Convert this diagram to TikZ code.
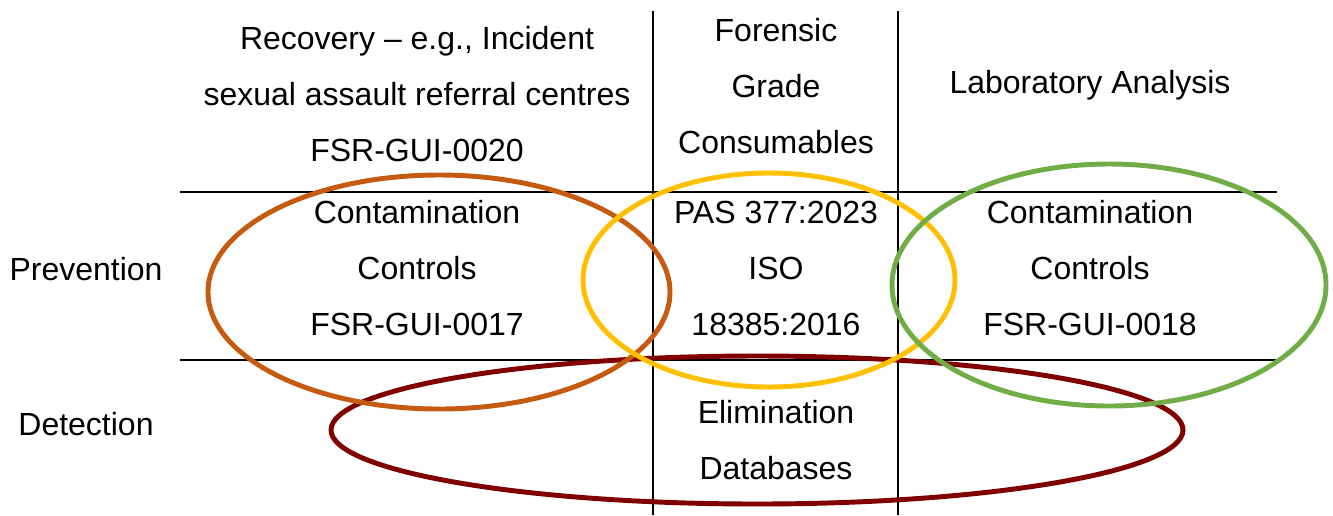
\documentclass[tikz,border=0pt]{standalone}
\usepackage{fontspec}
\setmainfont{Liberation Sans}
\usetikzlibrary{positioning}
\definecolor{ringorange}{HTML}{C55A11}
\definecolor{ringyellow}{HTML}{FFC000}
\definecolor{ringgreen}{HTML}{70AD47}
\definecolor{ringred}{HTML}{800000}
\tikzset{
  cell/.style={align=center,inner sep=0pt,font=\fontsize{24}{42}\selectfont},
  gridline/.style={line width=1.8pt},
  ring/.style={line width=3.7pt}
}

\begin{document}
\begin{tikzpicture}[x=0.75pt,y=-0.75pt]
  \useasboundingbox (0,0) rectangle (1333,515);
  % table rules
  \draw[gridline] (653,11) -- (653,515);
  \draw[gridline] (898,11) -- (898,515);
  \draw[gridline] (180,192) -- (1277,192);
  \draw[gridline] (180,360) -- (1277,360);
  % column headings
  \node[cell] (recovery) at (417,94) {Recovery – e.g., Incident\\sexual assault referral centres\\FSR-GUI-0020};
  \node[cell] (consumables) at (776,86) {Forensic\\Grade\\Consumables};
  \node[cell] (laboratory) at (1090,85) {Laboratory Analysis};
  % row headings
  \node[cell] (prevention) at (86,269) {Prevention};
  \node[cell] (detection) at (86,424) {Detection};
  % cells
  \node[cell] (controlsA) at (417,268) {Contamination\\Controls\\FSR-GUI-0017};
  \node[cell] (standards) at (776,268) {PAS 377:2023\\ISO\\18385:2016};
  \node[cell] (controlsB) at (1090,268) {Contamination\\Controls\\FSR-GUI-0018};
  \node[cell] (elimination) at (776,440) {Elimination\\Databases};
  % overlapping rings
  \draw[ring,ringred] (757,430) ellipse (426 and 74);
  \draw[ring,ringorange] (439,292) ellipse (231 and 117);
  \draw[ring,ringyellow] (769,280) ellipse (186 and 107);
  \draw[ring,ringgreen] (1109,285) ellipse (217 and 121);
\end{tikzpicture}
\end{document}
